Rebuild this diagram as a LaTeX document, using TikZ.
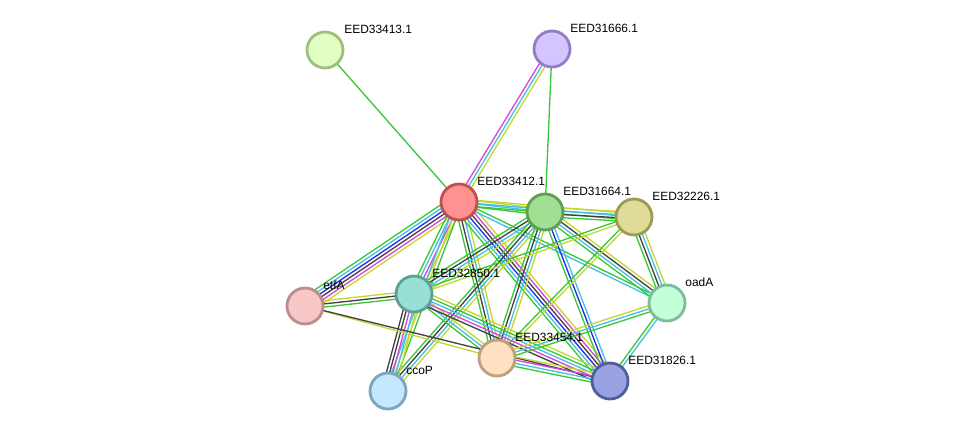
\documentclass[tikz,border=0pt]{standalone}
\usepackage{fontspec}
\setmainfont{Liberation Sans}
\usepackage{tikz}
\usetikzlibrary{calc, backgrounds}

\definecolor{eneigh}{RGB}{55,200,55}
\definecolor{edb}{RGB}{70,190,230}
\definecolor{eexp}{RGB}{215,70,215}
\definecolor{ecooc}{RGB}{40,40,235}
\definecolor{etext}{RGB}{195,215,50}
\definecolor{ecoex}{RGB}{65,65,65}

% parallel coloured lines between two nodes
\newcommand{\evid}[3]{%
  \foreach \c [count=\i] in {#3} {\xdef\nlines{\i}}
  \foreach \c [count=\i] in {#3} {
    \pgfmathsetmacro\off{(\i-(\nlines+1)/2)*1.8}
    \draw[edgeline, draw=\c] ($(#1)!\off pt!90:(#2)$) -- ($(#2)!\off pt!-90:(#1)$);
  }}

\begin{document}
\begin{tikzpicture}[
  x=0.02cm, y=-0.02cm,
  prot/.style={circle, draw, line width=1.6pt, minimum size=0.72cm, inner sep=0pt},
  lbl/.style={anchor=base west, inner sep=0pt, font=\fontsize{6.8}{8}\selectfont},
  edgeline/.style={line width=0.75pt}
]
\useasboundingbox (0,0) rectangle (976,437);

% Proteins
\node[prot, fill={rgb,255:red,225;green,255;blue,195}, draw={rgb,255:red,160;green,190;blue,125}] (n33413) at (325,50) {};
\node[prot, fill={rgb,255:red,212;green,196;blue,255}, draw={rgb,255:red,145;green,125;blue,200}] (n31666) at (552,49) {};
\node[prot, fill={rgb,255:red,255;green,145;blue,145}, draw={rgb,255:red,190;green,80;blue,80}] (n33412) at (459,202) {};
\node[prot, fill={rgb,255:red,160;green,222;blue,145}, draw={rgb,255:red,95;green,160;blue,80}] (n31664) at (545,212) {};
\node[prot, fill={rgb,255:red,222;green,220;blue,152}, draw={rgb,255:red,155;green,155;blue,85}] (n32226) at (634,217) {};
\node[prot, fill={rgb,255:red,248;green,200;blue,200}, draw={rgb,255:red,190;green,140;blue,140}] (netfA) at (305,306) {};
\node[prot, fill={rgb,255:red,152;green,224;blue,214}, draw={rgb,255:red,95;green,160;blue,150}] (n32850) at (414,294) {};
\node[prot, fill={rgb,255:red,195;green,255;blue,215}, draw={rgb,255:red,125;green,190;blue,150}] (noadA) at (667,303) {};
\node[prot, fill={rgb,255:red,255;green,224;blue,192}, draw={rgb,255:red,190;green,160;blue,125}] (n33454) at (497,358) {};
\node[prot, fill={rgb,255:red,155;green,162;blue,225}, draw={rgb,255:red,80;green,95;blue,155}] (n31826) at (610,381) {};
\node[prot, fill={rgb,255:red,195;green,232;blue,255}, draw={rgb,255:red,125;green,165;blue,190}] (nccoP) at (388,391) {};

% Labels
\node[lbl] (l33413) at ($(n33413)+(19,-17)$) {EED33413.1};
\node[lbl] (l31666) at ($(n31666)+(18,-17)$) {EED31666.1};
\node[lbl] (l33412) at ($(n33412)+(18,-17)$) {EED33412.1};
\node[lbl] (l31664) at ($(n31664)+(18,-17)$) {EED31664.1};
\node[lbl] (l32226) at ($(n32226)+(18,-17)$) {EED32226.1};
\node[lbl] (letfA) at ($(netfA)+(18,-17)$) {etfA};
\node[lbl] (l32850) at ($(n32850)+(18,-17)$) {EED32850.1};
\node[lbl] (loadA) at ($(noadA)+(18,-17)$) {oadA};
\node[lbl] (l33454) at ($(n33454)+(18,-17)$) {EED33454.1};
\node[lbl] (l31826) at ($(n31826)+(18,-17)$) {EED31826.1};
\node[lbl] (lccoP) at ($(nccoP)+(18,-17)$) {ccoP};

% Interactions
\begin{pgfonlayer}{background}
\evid{n33413}{n33412}{eneigh}
\evid{n31666}{n33412}{eexp,edb,etext}
\evid{n31666}{n31664}{eneigh}
\evid{n33412}{n31664}{eneigh,edb,etext}
\evid{n33412}{n32226}{eneigh,edb,etext}
\evid{n31664}{n32226}{eneigh,ecoex,edb,etext}
\evid{n33412}{netfA}{eneigh,edb,ecooc,ecoex,eexp,etext}
\evid{n33412}{n32850}{eneigh,edb,eexp,etext}
\evid{n33412}{nccoP}{edb,etext,eneigh}
\evid{n33412}{n33454}{eneigh,ecoex,edb,etext}
\evid{n33412}{n31826}{eneigh,edb,ecooc,ecoex,eexp,etext}
\evid{n33412}{noadA}{edb,eneigh}
\evid{n31664}{n32850}{eneigh,ecoex,edb,etext}
\evid{n31664}{nccoP}{eneigh,ecoex,edb,etext}
\evid{n31664}{n33454}{eneigh,ecoex,edb,etext}
\evid{n31664}{n31826}{eneigh,ecooc,edb}
\evid{n31664}{noadA}{eneigh,edb,ecoex,etext}
\evid{n32226}{n32850}{eneigh,etext}
\evid{n32226}{n33454}{eneigh,etext}
\evid{n32226}{noadA}{eneigh,ecoex,edb,etext}
\evid{n32850}{netfA}{etext,ecoex,eneigh}
\evid{n32850}{nccoP}{ecoex,ecoex,eexp,edb,etext}
\evid{n32850}{n33454}{eneigh,edb,etext}
\evid{n32850}{n31826}{ecoex,eexp,edb,eneigh,etext}
\evid{netfA}{n33454}{etext}
\evid{netfA}{n31826}{ecoex}
\evid{n33454}{noadA}{eneigh,edb,etext}
\evid{n33454}{n31826}{eneigh,edb,eexp,etext}
\evid{n31826}{noadA}{edb,eneigh}
\end{pgfonlayer}

\end{tikzpicture}
\end{document}
